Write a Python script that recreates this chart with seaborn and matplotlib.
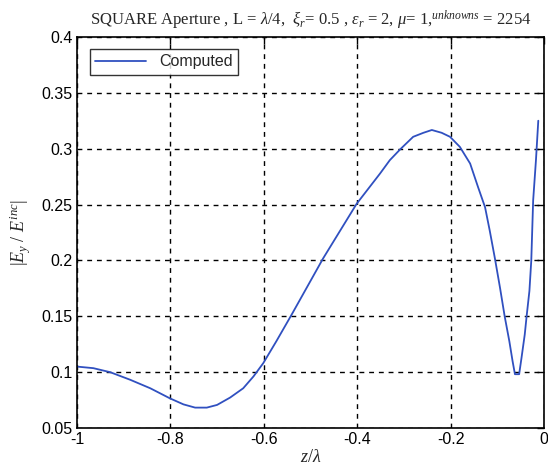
import matplotlib
matplotlib.use("Agg")
import matplotlib.pyplot as plt
import seaborn as sns
import pandas as pd

# Normalised field magnitude along the aperture axis
z_over_lambda = [-1.000, -0.965, -0.929, -0.886, -0.843, -0.801, -0.772, -0.747,
                 -0.722, -0.700, -0.672, -0.644, -0.622, -0.601, -0.573, -0.540,
                 -0.473, -0.401, -0.351, -0.330, -0.308, -0.280, -0.258, -0.240,
                 -0.219, -0.201, -0.180, -0.158, -0.141, -0.126, -0.116, -0.105,
                 -0.094, -0.084, -0.074, -0.067, -0.062, -0.053, -0.048, -0.041,
                 -0.037, -0.031, -0.027, -0.023, -0.017, -0.012]
ey_ratio = [0.1050, 0.1036, 0.1000, 0.0932, 0.0856, 0.0766, 0.0712, 0.0683,
            0.0683, 0.0707, 0.0773, 0.0856, 0.0962, 0.1081, 0.1277, 0.1517,
            0.2017, 0.2507, 0.2777, 0.2897, 0.2993, 0.3106, 0.3142, 0.3167,
            0.3142, 0.3106, 0.3016, 0.2867, 0.2656, 0.2476, 0.2267, 0.2020,
            0.1756, 0.1500, 0.1277, 0.1097, 0.0982, 0.0982, 0.1126, 0.1337,
            0.1500, 0.1727, 0.2000, 0.2536, 0.2897, 0.3250]

x_ticks = [-1, -0.8, -0.6, -0.4, -0.2, 0]
x_tick_labels = ["-1", "-0.8", "-0.6", "-0.4", "-0.2", "0"]
y_ticks = [0.05, 0.1, 0.15, 0.2, 0.25, 0.3, 0.35, 0.4]
y_tick_labels = ["0.05", "0.1", "0.15", "0.2", "0.25", "0.3", "0.35", "0.4"]

df = pd.DataFrame({"z": z_over_lambda, "ey": ey_ratio, "series": "Computed"})

sns.set_style("white")
plt.rcParams["font.family"] = ["Liberation Sans", "DejaVu Sans"]
plt.rcParams["mathtext.fontset"] = "custom"
plt.rcParams["mathtext.rm"] = "Liberation Serif"
plt.rcParams["mathtext.it"] = "Liberation Serif:italic"
plt.rcParams["mathtext.bf"] = "Liberation Serif:bold"

fig = plt.figure(figsize=(5.48, 4.73), dpi=100)
ax = fig.add_axes([0.1405, 0.095, 0.852, 0.827])

sns.lineplot(data=df, x="z", y="ey", hue="series", palette=["#3050c0"],
             linewidth=1.3, ax=ax, legend=True)

ax.set_xlim(-1, 0)
ax.set_ylim(0.05, 0.4)
ax.set_xticks(x_ticks)
ax.set_xticklabels(x_tick_labels)
ax.set_yticks(y_ticks)
ax.set_yticklabels(y_tick_labels)
ax.tick_params(direction="in", length=5, width=1, top=True, right=True,
               labelsize=11.5, colors="black", pad=3)
for s in ax.spines.values():
    s.set_color("black")
    s.set_linewidth(1.2)

ax.grid(True, color="black", linestyle=(0, (3.5, 3.5)), linewidth=1.0)

ax.set_xlabel(r"$z/\lambda$", fontsize=13, family="Liberation Serif", labelpad=1)
ax.set_ylabel(r"$|E_y\ /\ E^{inc}|$", fontsize=13, family="Liberation Serif", labelpad=6)

ax.set_title(r"SQUARE Aperture , L = $\lambda$/4,  $\xi_r$= 0.5 , $\varepsilon_r$ = 2, $\mu$= 1,"
             r"$^{unknowns}$ = 2254",
             fontsize=12, family="Liberation Serif", pad=8)

leg = ax.legend(loc="upper left", fontsize=11.5, frameon=True, fancybox=False,
                edgecolor="black", borderpad=0.35, handlelength=3.2,
                bbox_to_anchor=(0.01, 0.99))
leg.get_frame().set_linewidth(1.0)

fig.savefig("out.png", dpi=100)
